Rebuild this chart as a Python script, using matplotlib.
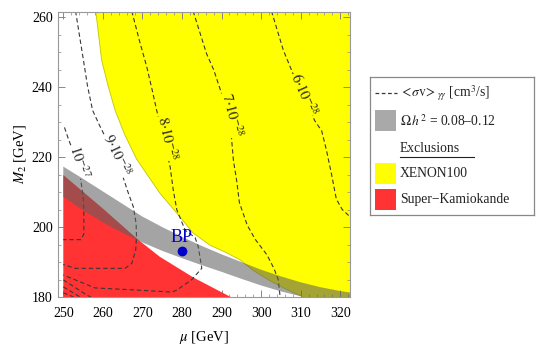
import matplotlib
matplotlib.use('Agg')
import matplotlib.pyplot as plt
from matplotlib.patches import Rectangle
import numpy as np

plt.rcParams['font.family'] = ['Liberation Serif', 'DejaVu Serif']
plt.rcParams['mathtext.fontset'] = 'stix'

# ---------------- data ----------------
# XENON100 exclusion boundary (lower-left edge of yellow region)
xenon_x = [258.2, 259.7, 261.3, 263.1, 265.5, 268.5, 271.5, 274.4, 279.5, 282.8,
           287.1, 291.0, 294.7, 298.0, 302.0, 306.0, 310.7, 312.5]
xenon_y = [261.8, 247.7, 240.5, 233.4, 226.5, 219.5, 214.5, 209.7, 202.9, 198.3,
           194.8, 192.8, 190.6, 187.6, 184.8, 182.4, 180.0, 179.0]

# Super-Kamiokande exclusion (upper edge of red region)
sk_x = [250.0, 260.0, 268.8, 274.4, 283.0, 292.3]
sk_top = [214.9, 205.3, 196.5, 191.5, 185.5, 180.0]

# relic density band Omega h^2 = 0.08-0.12
band_x = [250, 255, 260, 265, 270, 275, 280, 285, 290, 295, 300, 305, 310, 315, 320, 323]
band_upper = [217.3, 213.8, 210.2, 206.6, 203.0, 200.0, 197.2, 194.6, 192.2, 190.0,
              187.8, 185.9, 184.2, 182.8, 181.7, 181.2]
band_lower = [208.7, 204.8, 201.3, 198.3, 195.6, 193.2, 191.1, 189.1, 187.2, 185.2,
              183.3, 181.6, 180.2, 179.0, 178.0, 177.5]

# <sigma v>_gamma gamma contours
c1e27_x = [250.3, 251.2, 252.2, 253.3, 254.4, 255.0, 255.2, 255.2, 254.4, 252.0, 250.0]
c1e27_y = [228.5, 225.5, 222.5, 218.5, 213.5, 209.0, 205.0, 198.0, 196.4, 196.4, 196.4]

c9e28_x = [253.1, 254.2, 255.1, 256.1, 257.4, 259.2, 261.0, 263.0, 264.8, 266.5, 267.7,
           268.4, 268.5, 268.3, 267.3, 265.6, 253.0, 250.0]
c9e28_y = [261.8, 254.0, 247.7, 240.5, 233.4, 229.0, 224.9, 220.3, 215.3, 209.5, 205.8,
           201.0, 197.2, 193.4, 189.6, 188.2, 188.2, 189.3]

c8e28_x = [267.3, 269.2, 271.1, 272.4, 273.6, 275.3, 277.0, 277.8, 278.7, 280.8, 283.3,
           284.1, 285.0, 282.4, 278.7, 277.5, 270.0, 258.0, 256.7, 250.0]
c8e28_y = [261.8, 253.5, 245.8, 239.5, 233.4, 225.5, 217.2, 210.5, 204.9, 199.1, 197.0,
           194.4, 188.2, 184.9, 182.0, 181.4, 181.9, 182.6, 183.2, 186.3]

c7e28_x = [282.8, 286.2, 288.0, 290.0, 291.7, 292.5, 293.0, 293.8, 294.5, 296.5, 298.5,
           301.5, 303.3, 304.3, 304.8]
c7e28_y = [261.8, 249.6, 245.0, 238.2, 232.5, 225.5, 219.0, 213.4, 207.0, 200.5, 196.5,
           192.0, 188.0, 185.0, 180.0]

c6e28_x = [302.6, 305.6, 308.0, 311.2, 313.5, 315.3, 316.5, 317.8, 319.0, 320.5, 322.5]
c6e28_y = [261.8, 250.6, 244.0, 237.2, 230.5, 227.5, 222.0, 215.0, 208.0, 205.0, 202.9]

# unlabeled contour pieces in the lower-left corner
ca_x = [250.0, 255.9, 257.2]
ca_y = [184.9, 180.6, 179.8]
cb_x = [250.0, 253.4, 254.5]
cb_y = [182.9, 180.6, 179.8]
cc_x = [250.0, 252.0, 252.8]
cc_y = [181.2, 180.3, 179.8]

contour_labels = [r'$10^{-27}$', r'$9{\cdot}10^{-28}$', r'$8{\cdot}10^{-28}$',
                  r'$7{\cdot}10^{-28}$', r'$6{\cdot}10^{-28}$']
label_x = [254.0, 263.6, 276.2, 292.5, 310.9]
label_y = [218.8, 220.5, 225.5, 232.2, 238.0]
label_rot = [-72, -65, -77, -75, -66]
label_bg = ['white', 'white', '#ffff00', '#ffff00', '#ffff00']

bp_x, bp_y = 280.0, 193.2

xticks = [250, 260, 270, 280, 290, 300, 310, 320]
yticks = [180, 200, 220, 240, 260]

legend_texts = [r'$<\!\sigma \mathrm{v}\!>_{\gamma\gamma}$ [cm$^3$/s]',
                r'$\Omega\,h^{2}$ = 0.08–0.12', 'Exclusions', 'XENON100',
                'Super−Kamiokande']

# ---------------- figure ----------------
W, H = 545, 355
fig = plt.figure(figsize=(W / 100, H / 100), dpi=100)
ax = fig.add_axes([58.3 / W, 1 - 297 / H, (350 - 58.3) / W, (297 - 11.7) / H])

xl = (248.74, 322.45)
yl = (180.0, 261.6)

# yellow region
ax.fill(xenon_x + [xl[1] + 2, xl[1] + 2], xenon_y + [178, 263],
        facecolor='#ffff00', edgecolor='#c4c400', lw=0.6, zorder=1)
# red region
ax.fill_between(sk_x, [180] * len(sk_x), sk_top, facecolor='#ff3333', lw=0, zorder=2)
# gray band (drawn on top, semi-transparent)
ax.fill_between(band_x, band_lower, band_upper, facecolor='#5e5e5e', alpha=0.56,
                lw=0, zorder=3)

dash = (0, (4, 2.5))
dcol = '#383838'
for xs, ys in [(c1e27_x, c1e27_y), (c9e28_x, c9e28_y), (c8e28_x, c8e28_y),
               (c7e28_x, c7e28_y), (c6e28_x, c6e28_y), (ca_x, ca_y), (cb_x, cb_y),
               (cc_x, cc_y)]:
    ax.plot(xs, ys, ls=dash, color=dcol, lw=0.8, zorder=2.5)

for t, lx, ly, r, bg in zip(contour_labels, label_x, label_y, label_rot, label_bg):
    ax.text(lx, ly, t, rotation=r, rotation_mode='anchor', ha='center', va='center',
            fontsize=10.5, color='#222222', zorder=2.7,
            bbox=dict(boxstyle='square,pad=0.02', fc=bg, ec='none'))

ax.plot([bp_x], [bp_y], 'o', color='#0000cc', ms=6, zorder=6)
ax.text(bp_x, bp_y + 1.3, 'BP', color='#0000cc', fontsize=13, ha='center',
        va='bottom', zorder=6)

ax.set_xlim(*xl)
ax.set_ylim(*yl)
ax.set_xticks(xticks)
ax.set_xticks(np.arange(250, 323, 2), minor=True)
ax.set_yticks(yticks)
ax.set_yticks(np.arange(180, 262, 5), minor=True)
ax.tick_params(which='both', direction='in', top=True, right=True, color='#888888',
               labelsize=10)
ax.tick_params(axis='x', which='both', pad=7)
ax.tick_params(axis='y', which='both', pad=4)
ax.tick_params(which='major', length=5, width=0.7)
ax.tick_params(which='minor', length=2.5, width=0.5)
for s in ax.spines.values():
    s.set_color('#999999')
    s.set_linewidth(0.8)
ax.set_xlabel(r'$\mu$ [GeV]', fontsize=10.5, labelpad=7)
ax.set_ylabel(r'$M_2$ [GeV]', fontsize=10.5, labelpad=3)

# ---------------- legend (drawn in pixel coordinates) ----------------
lx0, lx1, ly0, ly1 = 370, 534, 77, 215
lax = fig.add_axes([lx0 / W, 1 - ly1 / H, (lx1 - lx0) / W, (ly1 - ly0) / H])
lax.set_xlim(lx0, lx1)
lax.set_ylim(ly1, ly0)
lax.set_xticks([])
lax.set_yticks([])
for s in lax.spines.values():
    s.set_color('#888888')
    s.set_linewidth(0.9)

rows_y = [93, 121, 148, 173.5, 199.5]
lax.plot([375, 397], [rows_y[0], rows_y[0]], ls=(0, (3, 2)), color=dcol, lw=0.9)
lax.add_patch(Rectangle((375, 110), 21, 21, facecolor='#a9a9a9', edgecolor='none'))
lax.add_patch(Rectangle((375, 163), 21, 21, facecolor='#ffff00', edgecolor='none'))
lax.add_patch(Rectangle((375, 189), 21, 21, facecolor='#ff3333', edgecolor='none'))
for t, yy in zip(legend_texts, rows_y):
    lax.text(400, yy, t, fontsize=9.8, va='center', ha='left', color='#222222')
lax.plot([400, 474], [156.5, 156.5], color='#222222', lw=0.8)

fig.savefig('out.png', dpi=100)
